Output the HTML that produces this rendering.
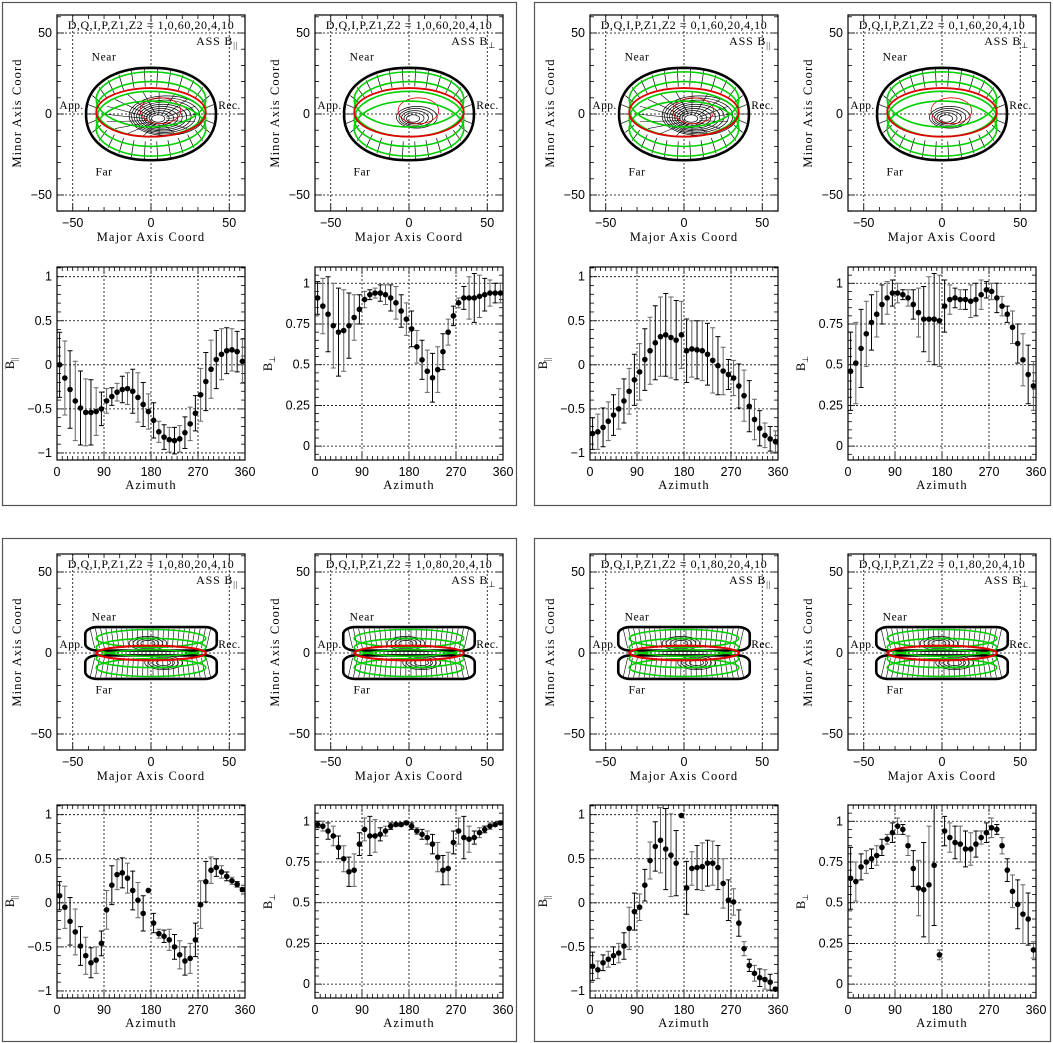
<!DOCTYPE html>
<html><head><meta charset="utf-8">
<style>
html,body{margin:0;padding:0;background:#fff;}
svg{display:block;}
text{font-family:"Liberation Sans",sans-serif;fill:#000;}
.ser{font-family:"Liberation Serif",serif;}
</style></head>
<body>
<svg id="fig" width="1053" height="1043" viewBox="0 0 1053 1043" xmlns="http://www.w3.org/2000/svg"></svg>
<script>
// ---- data ----
const azimuths = [5,15,25,35,45,55,65,75,85,95,105,115,125,135,145,155,165,175,185,195,205,215,225,235,245,255,265,275,285,295,305,315,325,335,345,355];
const parA = [0,-0.15,-0.28,-0.41,-0.49,-0.54,-0.54,-0.53,-0.5,-0.41,-0.36,-0.31,-0.28,-0.27,-0.3,-0.37,-0.45,-0.53,-0.63,-0.76,-0.82,-0.85,-0.86,-0.84,-0.77,-0.67,-0.55,-0.34,-0.19,-0.05,0.06,0.12,0.16,0.17,0.15,0.04];
const parAErr = [0.37,0.42,0.44,0.45,0.42,0.38,0.37,0.27,0.19,0.14,0.1,0.1,0.15,0.18,0.25,0.28,0.25,0.2,0.2,0.12,0.14,0.14,0.15,0.15,0.18,0.19,0.2,0.3,0.33,0.33,0.33,0.29,0.26,0.24,0.23,0.25];
const perpB = [0.91,0.86,0.81,0.74,0.70,0.71,0.74,0.79,0.84,0.90,0.93,0.94,0.94,0.93,0.91,0.88,0.83,0.78,0.72,0.61,0.53,0.46,0.42,0.47,0.58,0.70,0.80,0.88,0.91,0.91,0.91,0.92,0.93,0.94,0.94,0.94];
const perpBErr = [0.1,0.17,0.23,0.26,0.27,0.25,0.2,0.14,0.09,0.05,0.03,0.03,0.05,0.06,0.08,0.1,0.1,0.1,0.11,0.1,0.12,0.13,0.15,0.14,0.11,0.08,0.06,0.03,0.07,0.13,0.15,0.13,0.1,0.08,0.06,0.06];
const parC = [-0.78,-0.76,-0.71,-0.64,-0.57,-0.5,-0.41,-0.3,-0.17,-0.08,0.06,0.16,0.25,0.32,0.34,0.31,0.28,0.34,0.16,0.18,0.17,0.16,0.12,0.05,-0.01,-0.07,-0.11,-0.15,-0.24,-0.35,-0.47,-0.62,-0.72,-0.8,-0.84,-0.87];
const parCErr = [0.18,0.2,0.22,0.22,0.23,0.23,0.25,0.26,0.29,0.32,0.35,0.38,0.42,0.45,0.47,0.46,0.45,0.38,0.36,0.32,0.33,0.34,0.35,0.37,0.33,0.27,0.17,0.2,0.25,0.29,0.29,0.23,0.2,0.14,0.14,0.12];
const perpD = [0.46,0.51,0.60,0.69,0.76,0.81,0.87,0.91,0.94,0.94,0.93,0.91,0.87,0.82,0.78,0.78,0.78,0.77,0.86,0.90,0.91,0.90,0.90,0.89,0.90,0.93,0.96,0.95,0.91,0.86,0.81,0.73,0.63,0.53,0.44,0.37];
const perpDErr = [0.24,0.25,0.24,0.2,0.17,0.14,0.12,0.1,0.08,0.06,0.03,0.05,0.09,0.15,0.2,0.26,0.28,0.28,0.16,0.09,0.06,0.06,0.06,0.1,0.1,0.09,0.05,0.05,0.09,0.06,0.05,0.1,0.12,0.16,0.18,0.15];
const parE = [0.08,-0.05,-0.21,-0.33,-0.49,-0.6,-0.68,-0.65,-0.46,-0.08,0.2,0.32,0.34,0.28,0.14,0.03,-0.12,0.14,-0.23,-0.35,-0.38,-0.42,-0.5,-0.59,-0.66,-0.63,-0.42,-0.02,0.24,0.37,0.4,0.35,0.3,0.25,0.21,0.15];
const parEErr = [0.16,0.24,0.27,0.26,0.22,0.21,0.17,0.15,0.14,0.22,0.22,0.17,0.17,0.17,0.22,0.2,0.2,0.01,0.11,0.05,0.07,0.12,0.14,0.16,0.16,0.17,0.19,0.27,0.23,0.15,0.1,0.07,0.05,0.04,0.03,0.02];
const perpF = [0.98,0.97,0.94,0.91,0.84,0.77,0.69,0.70,0.86,0.95,0.91,0.91,0.92,0.94,0.97,0.98,0.98,0.99,0.97,0.94,0.92,0.90,0.86,0.78,0.70,0.71,0.87,0.94,0.90,0.89,0.90,0.93,0.95,0.97,0.98,0.99];
const perpFErr = [0.02,0.03,0.05,0.06,0.07,0.08,0.09,0.1,0.07,0.07,0.12,0.1,0.04,0.03,0.02,0.01,0.01,0.01,0.02,0.02,0.03,0.04,0.06,0.09,0.09,0.1,0.07,0.08,0.13,0.08,0.04,0.03,0.02,0.02,0.01,0.01];
const parG = [-0.72,-0.76,-0.68,-0.64,-0.6,-0.57,-0.49,-0.29,-0.1,-0.05,0.2,0.48,0.64,0.71,0.61,0.54,0.45,0.99,0.17,0.39,0.40,0.41,0.45,0.45,0.4,0.22,0.03,0.01,-0.23,-0.52,-0.71,-0.8,-0.85,-0.87,-0.9,-0.98];
const parGErr = [0.16,0.1,0.09,0.09,0.1,0.11,0.15,0.24,0.21,0.15,0.18,0.21,0.28,0.37,0.46,0.47,0.37,0.0,0.3,0.19,0.25,0.27,0.26,0.25,0.25,0.28,0.23,0.15,0.15,0.08,0.07,0.09,0.1,0.11,0.09,0.02];
const perpH = [0.65,0.63,0.72,0.75,0.77,0.79,0.84,0.89,0.93,0.97,0.95,0.85,0.71,0.59,0.58,0.61,0.73,0.18,0.94,0.90,0.87,0.86,0.83,0.83,0.86,0.90,0.93,0.96,0.95,0.85,0.7,0.57,0.49,0.43,0.40,0.21];
const perpHErr = [0.19,0.12,0.08,0.07,0.06,0.06,0.05,0.03,0.06,0.05,0.03,0.06,0.11,0.17,0.29,0.36,0.37,0.03,0.09,0.09,0.1,0.11,0.11,0.1,0.08,0.04,0.06,0.06,0.03,0.05,0.07,0.1,0.15,0.18,0.16,0.05];
const azTicks = [0,90,180,270,360];
const parTicks = [-1,-0.5,0,0.5,1];
const parTickLabels = ["\u22121","\u22120.5","0","0.5","1"];
const perpTicks = [0,0.25,0.5,0.75,1];
const perpTickLabels = ["0","0.25","0.5","0.75","1"];
const mapTicks = [-50,0,50];
const mapTickLabels = ["\u221250","0","50"];

const NS = "http://www.w3.org/2000/svg";
const svg = document.getElementById('fig');
function mk(tag, attrs, parent, txt){
  const e = document.createElementNS(NS, tag);
  for (const k in attrs) e.setAttribute(k, attrs[k]);
  if (txt !== undefined) e.textContent = txt;
  (parent || svg).appendChild(e);
  return e;
}

const boxes = [[2,2,514,503],[534,2,516,503],[2,538,514,503],[534,538,516,503]];
boxes.forEach((b,i)=>{
  const r = mk('rect',{x:b[0]+0.5,y:b[1]+0.5,width:b[2],height:b[3],fill:'none',stroke:'#555','stroke-width':1.2});
  
  
});

function ell(g, sx, sy, cx, cy, a, b, stroke, sw){
  mk('ellipse',{cx:sx(cx),cy:sy(cy),rx:Math.abs(sx(a)-sx(0)),ry:Math.abs(sy(b)-sy(0)),fill:'none',stroke:stroke,'stroke-width':sw},g);
}
function superEll(g, sx, sy, a, b, p, sw){
  let d='';
  for(let k=0;k<=120;k++){
    const t=k*2*Math.PI/120, ct=Math.cos(t), st=Math.sin(t);
    const x=a*Math.sign(ct)*Math.pow(Math.abs(ct),2/p), y=b*Math.sign(st)*Math.pow(Math.abs(st),2/p);
    d+=(k?'L':'M')+sx(x).toFixed(1)+','+sy(y).toFixed(1);
  }
  mk('path',{d:d+'Z',fill:'none',stroke:'#000','stroke-width':sw},g);
}

function drawMap(ox, oy, incl, kind, params, name){
  const g = mk('g',{});
  
  
  const L=57+ox, R=245+ox, T=15+oy, B=211+oy;
  const sx = u => 151+ox + 1.565*u;
  const sy = v => 114+oy - 1.62*v;
  mapTicks.forEach(t=>{
    mk('line',{x1:sx(t),x2:sx(t),y1:T,y2:B,stroke:'#000','stroke-width':0.8,'stroke-dasharray':'2,2'},g);
    mk('line',{x1:L,x2:R,y1:sy(t),y2:sy(t),stroke:'#000','stroke-width':0.8,'stroke-dasharray':'2,2'},g);
  });
  for(let t=-60;t<=60;t+=10){
    const len = (t%50===0)?7:4;
    mk('line',{x1:sx(t),x2:sx(t),y1:B,y2:B-len,stroke:'#000','stroke-width':0.8},g);
    mk('line',{x1:sx(t),x2:sx(t),y1:T,y2:T+len,stroke:'#000','stroke-width':0.8},g);
    mk('line',{x1:L,x2:L+len,y1:sy(t),y2:sy(t),stroke:'#000','stroke-width':0.8},g);
    mk('line',{x1:R,x2:R-len,y1:sy(t),y2:sy(t),stroke:'#000','stroke-width':0.8},g);
  }
  const c = Math.cos(incl*Math.PI/180);
  if (incl===60){
    for(let k=0;k<30;k++){
      const t=k*2*Math.PI/30;
      mk('line',{x1:sx(35*Math.cos(t)),y1:sy(17*Math.sin(t)),x2:sx(41*Math.cos(t)),y2:sy(28*Math.sin(t)),stroke:'#000','stroke-width':0.7},g);
    }
    const cx0 = kind==='par'?4:2, cy0=-3;
    const n = kind==='par'?10:5;
    for(let k=1;k<=n;k++){
      ell(g,sx,sy,cx0+k*0.6,cy0+k*0.2,2+k*2.2,1.2+k*1.1,'#000',0.7);
    }
    if (kind==='par'){
      for(let k=0;k<18;k++){
        const t=k*2*Math.PI/18;
        mk('line',{x1:sx(cx0+6*Math.cos(t)),y1:sy(cy0+3*Math.sin(t)),x2:sx(30*Math.cos(t)),y2:sy(14*Math.sin(t)),stroke:'#000','stroke-width':0.6},g);
      }
    }
    superEll(g,sx,sy,41.5,28.5,2.2,2.6);
    ell(g,sx,sy,6,2,13,8,'#e00000',0.8);
    [9,3,-3,-9].forEach(cy=>ell(g,sx,sy,0,cy,35,35*c-0.5,'#00d000',1.6));
    ell(g,sx,sy,0,1,35,15,'#e00000',1.8);
  } else {
    for(let k=0;k<24;k++){
      const xx=-36+k*3.1;
      mk('line',{x1:sx(xx),y1:sy(3),x2:sx(xx*1.08),y2:sy(15),stroke:'#000','stroke-width':0.6},g);
      mk('line',{x1:sx(xx),y1:sy(-3),x2:sx(xx*1.08),y2:sy(-15),stroke:'#000','stroke-width':0.6},g);
    }
    for(let k=1;k<=4;k++){
      ell(g,sx,sy,-2,6,2+k*2.5,1+k*0.8,'#000',0.7);
      ell(g,sx,sy,8,-6,2+k*2.5,1+k*0.8,'#000',0.7);
    }
    const lobe = (y1,y2)=>{
      const x1=sx(-42),x2=sx(42),ya=sy(y1),yb=sy(y2);
      mk('rect',{x:x1,y:Math.min(ya,yb),width:x2-x1,height:Math.abs(yb-ya),rx:12,ry:7,fill:'none',stroke:'#000','stroke-width':2.6},g);
    };
    lobe(16,1.5); lobe(-1.5,-16);
    [9,3.5,-3.5,-9].forEach(cy=>ell(g,sx,sy,0,cy,35,5.5,'#00d000',1.6));
    ell(g,sx,sy,0,0,35,4.5,'#e00000',2.2);
  }
  mk('rect',{x:L,y:T,width:R-L,height:B-T,fill:'none',stroke:'#000','stroke-width':1.2},g);
  mk('text',{x:151+ox,y:29+oy,'text-anchor':'middle','font-size':12,'letter-spacing':0.55,class:'ser'},g,'D,Q,I,P,Z1,Z2 = '+params);
  const lab = mk('text',{x:238+ox,y:45+oy,'text-anchor':'end','font-size':12,'letter-spacing':0.8,class:'ser'},g,'ASS B');
  mk('tspan',{dy:3,'font-size':8},lab, kind==='par'?'||':'\u22a5');
  const nearY = incl===60?33:20;
  mk('text',{x:sx(-30),y:sy(nearY),'text-anchor':'middle','font-size':11.5,'letter-spacing':0.6,class:'ser'},g,'Near');
  mk('text',{x:sx(-30),y:sy(-nearY)+8,'text-anchor':'middle','font-size':11.5,'letter-spacing':0.6,class:'ser'},g,'Far');
  mk('text',{x:sx(-43),y:sy(3),'text-anchor':'end','font-size':11.5,'letter-spacing':0.4,class:'ser'},g,'App.');
  mk('text',{x:sx(43),y:sy(3),'text-anchor':'start','font-size':11.5,'letter-spacing':0.4,class:'ser'},g,'Rec.');
  mapTicks.forEach((t,i)=>{
    mk('text',{x:sx(t),y:B+16,'text-anchor':'middle','font-size':12.5},g,mapTickLabels[i]);
    mk('text',{x:L-5,y:sy(t)+4,'text-anchor':'end','font-size':12.5},g,mapTickLabels[i]);
  });
  mk('text',{x:151+ox,y:B+30,'text-anchor':'middle','font-size':12.5,'letter-spacing':1.1,class:'ser'},g,'Major Axis Coord');
  mk('text',{x:0,y:0,'text-anchor':'middle','font-size':12.5,'letter-spacing':1.1,class:'ser',transform:`translate(${21+ox},${113+oy}) rotate(-90)`},g,'Minor Axis Coord');
}

function drawAz(ox, oy, vals, errs, kind, name){
  const g = mk('g',{});
  
  
  const L=57+ox, R=245+ox, T=267+oy, B=460+oy;
  const ymin = kind==='par'?-1.08:-0.085, ymax = kind==='par'?1.11:1.10;
  const sx = a => L + (R-L)*a/360;
  const sy = v => B - (B-T)*(v-ymin)/(ymax-ymin);
  const ticks = kind==='par'?parTicks:perpTicks;
  const labels = kind==='par'?parTickLabels:perpTickLabels;
  ticks.forEach(t=>mk('line',{x1:L,x2:R,y1:sy(t),y2:sy(t),stroke:'#000','stroke-width':0.8,'stroke-dasharray':'2,2'},g));
  [90,180,270].forEach(t=>mk('line',{x1:sx(t),x2:sx(t),y1:T,y2:B,stroke:'#000','stroke-width':0.8,'stroke-dasharray':'2,2'},g));
  for(let a=0;a<=360;a+=10){
    const len=(a%90===0)?7:4;
    mk('line',{x1:sx(a),x2:sx(a),y1:B,y2:B-len,stroke:'#000','stroke-width':0.8},g);
    mk('line',{x1:sx(a),x2:sx(a),y1:T,y2:T+len,stroke:'#000','stroke-width':0.8},g);
  }
  const step = kind==='par'?0.1:0.05;
  for(let k=Math.ceil(ymin/step);k*step<=ymax;k++){
    const v=k*step;
    const major = ticks.some(t=>Math.abs(t-v)<1e-6);
    const len = major?7:4;
    mk('line',{x1:L,x2:L+len,y1:sy(v),y2:sy(v),stroke:'#000','stroke-width':0.8},g);
    mk('line',{x1:R,x2:R-len,y1:sy(v),y2:sy(v),stroke:'#000','stroke-width':0.8},g);
  }
  for(let i=0;i<azimuths.length;i++){
    const x=sx(azimuths[i]), y1=sy(vals[i]-errs[i]), y2=sy(vals[i]+errs[i]);
    const col = i%2?'#666':'#000';
    const eb = mk('path',{d:`M${x},${y1}V${y2}M${x-2.5},${y1}H${x+2.5}M${x-2.5},${y2}H${x+2.5}`,stroke:col,'stroke-width':1,fill:'none'},g);
    
    
    const dot = mk('circle',{cx:x,cy:sy(vals[i]),r:2.8,fill:'#000'},g);
    
    
  }
  mk('rect',{x:L,y:T,width:R-L,height:B-T,fill:'none',stroke:'#000','stroke-width':1.2},g);
  ticks.forEach((t,i)=>mk('text',{x:L-5,y:sy(t)+4,'text-anchor':'end','font-size':12.5},g,labels[i]));
  azTicks.forEach(t=>mk('text',{x:sx(t),y:B+16,'text-anchor':'middle','font-size':12.5},g,String(t)));
  mk('text',{x:151+ox,y:B+29,'text-anchor':'middle','font-size':12.5,'letter-spacing':1.1,class:'ser'},g,'Azimuth');
  const yl = mk('text',{x:0,y:0,'text-anchor':'middle','font-size':12.5,class:'ser',transform:`translate(${14+ox},${(T+B)/2}) rotate(-90)`},g,'B');
  mk('tspan',{dy:3,'font-size':8},yl, kind==='par'?'||':'\u22a5');
}

drawMap(0,0,60,'par','1,0,60,20,4,10','map-1060-par');
drawMap(258,0,60,'perp','1,0,60,20,4,10','map-1060-perp');
drawMap(533,0,60,'par','0,1,60,20,4,10','map-0160-par');
drawMap(791,0,60,'perp','0,1,60,20,4,10','map-0160-perp');
drawMap(0,539,80,'par','1,0,80,20,4,10','map-1080-par');
drawMap(258,539,80,'perp','1,0,80,20,4,10','map-1080-perp');
drawMap(533,539,80,'par','0,1,80,20,4,10','map-0180-par');
drawMap(791,539,80,'perp','0,1,80,20,4,10','map-0180-perp');

drawAz(0,0,parA,parAErr,'par','azimuth-plot-1060-par');
drawAz(258,0,perpB,perpBErr,'perp','azimuth-plot-1060-perp');
drawAz(533,0,parC,parCErr,'par','azimuth-plot-0160-par');
drawAz(791,0,perpD,perpDErr,'perp','azimuth-plot-0160-perp');
drawAz(0,538,parE,parEErr,'par','azimuth-plot-1080-par');
drawAz(258,538,perpF,perpFErr,'perp','azimuth-plot-1080-perp');
drawAz(533,538,parG,parGErr,'par','azimuth-plot-0180-par');
drawAz(791,538,perpH,perpHErr,'perp','azimuth-plot-0180-perp');
</script>
</body></html>
